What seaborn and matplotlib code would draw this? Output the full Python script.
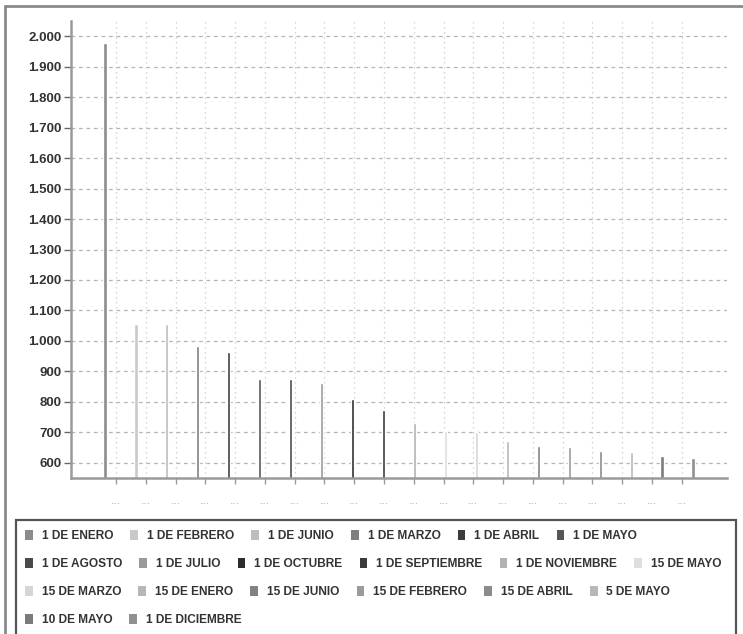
import numpy as np
import pandas as pd
import matplotlib
matplotlib.use('Agg')
import matplotlib.pyplot as plt
import seaborn as sns
from matplotlib.lines import Line2D
from matplotlib.patches import Rectangle, Patch

# datos
fechas = ['1 DE ENERO', '1 DE FEBRERO', '1 DE JUNIO', '1 DE MARZO', '1 DE ABRIL', '1 DE MAYO',
          '1 DE AGOSTO', '1 DE JULIO', '1 DE OCTUBRE', '1 DE SEPTIEMBRE', '1 DE NOVIEMBRE', '15 DE MAYO',
          '15 DE MARZO', '15 DE ENERO', '15 DE JUNIO', '15 DE FEBRERO', '15 DE ABRIL', '5 DE MAYO',
          '10 DE MAYO', '1 DE DICIEMBRE']
valores = [1978, 1054, 1055, 984, 964, 874, 874, 861, 809, 773,
           729, 705, 700, 670, 655, 651, 640, 634, 621, 615]
grises = ['#8c8c8c', '#c9c9c9', '#bdbdbd', '#7e7e7e', '#3c3c3c', '#565656',
          '#4a4a4a', '#9a9a9a', '#2c2c2c', '#3a3a3a', '#b2b2b2', '#dedede',
          '#d6d6d6', '#b6b6b6', '#828282', '#9b9b9b', '#8a8a8a', '#b8b8b8',
          '#7b7b7b', '#909090']
items_por_fila = [6, 6, 6, 2]
ticks_y = [600, 700, 800, 900, 1000, 1100, 1200, 1300, 1400, 1500, 1600, 1700, 1800, 1900, 2000]

df = pd.DataFrame({'fecha': fechas, 'valor': valores})

sns.set_style('white')
plt.rcParams['font.family'] = ['Liberation Sans', 'DejaVu Sans']

W, H = 743, 634
fig = plt.figure(figsize=(W / 100, H / 100), dpi=100)
ax = fig.add_axes([71 / W, 1 - 478 / H, (727 - 71) / W, (478 - 21) / H])

paleta = dict(zip(fechas, grises))
sns.barplot(data=df, x='fecha', y='valor', hue='fecha', palette=paleta, order=fechas,
            width=0.1, legend=False, ax=ax, saturation=1)

ax.set_xlim(-1.1, 20.1)
ax.set_ylim(550, 2050)
ax.set_yticks(ticks_y)
ax.set_yticklabels([f'{v:,}'.replace(',', '.') for v in ticks_y])
ax.set_xticks(np.linspace(0.355, 18.64, 20))
ax.set_xticklabels(['...'] * 20)
ax.set_xlabel('')
ax.set_ylabel('')

ax.grid(axis='y', color='#b5b5b5', linestyle=(0, (3, 3)), linewidth=0.9)
ax.grid(axis='x', color='#c8c8c8', linestyle=(0, (1, 3)), linewidth=0.9)
ax.set_axisbelow(True)

for s in ['top', 'right']:
    ax.spines[s].set_visible(False)
for s in ['left', 'bottom']:
    ax.spines[s].set_color('#9a9a9a')
    ax.spines[s].set_linewidth(1.8)

ax.tick_params(axis='y', length=5, width=1, color='#666666', labelsize=9.5,
               labelcolor='#333333', pad=2, left=True)
ax.tick_params(axis='x', length=4, width=1, color='#999999', labelsize=9,
               labelcolor='#b0b0b0', pad=8, bottom=True)
for t in ax.get_yticklabels():
    t.set_fontweight('bold')

# leyenda en filas (flujo)
y_filas = [536, 564, 592, 620]
i = 0
for n, yf in zip(items_por_fila, y_filas):
    handles = [Patch(facecolor=paleta[f], edgecolor='none') for f in fechas[i:i + n]]
    leg = fig.legend(handles, fechas[i:i + n], loc='center left',
                     bbox_to_anchor=(25 / W, 1 - yf / H), ncol=n, frameon=False,
                     fontsize=8.55, handlelength=0.65, handleheight=1.0,
                     handletextpad=0.75, columnspacing=1.45, borderpad=0, borderaxespad=0)
    for t in leg.get_texts():
        t.set_color('#333333')
        t.set_fontweight('bold')
    i += n

fig.add_artist(Rectangle((16 / W, -0.05), (736 - 16) / W, 0.05 + 1 - 520 / H,
                         transform=fig.transFigure, fill=False, edgecolor='#555555',
                         linewidth=1.6, clip_on=False))
fig.add_artist(Line2D([5 / W, 5 / W], [0, 1 - 6 / H], transform=fig.transFigure,
                      color='#8a8a8a', linewidth=2))
fig.add_artist(Line2D([5 / W, 1], [1 - 6 / H, 1 - 6 / H], transform=fig.transFigure,
                      color='#8a8a8a', linewidth=2))

fig.savefig('out.png', dpi=100)
